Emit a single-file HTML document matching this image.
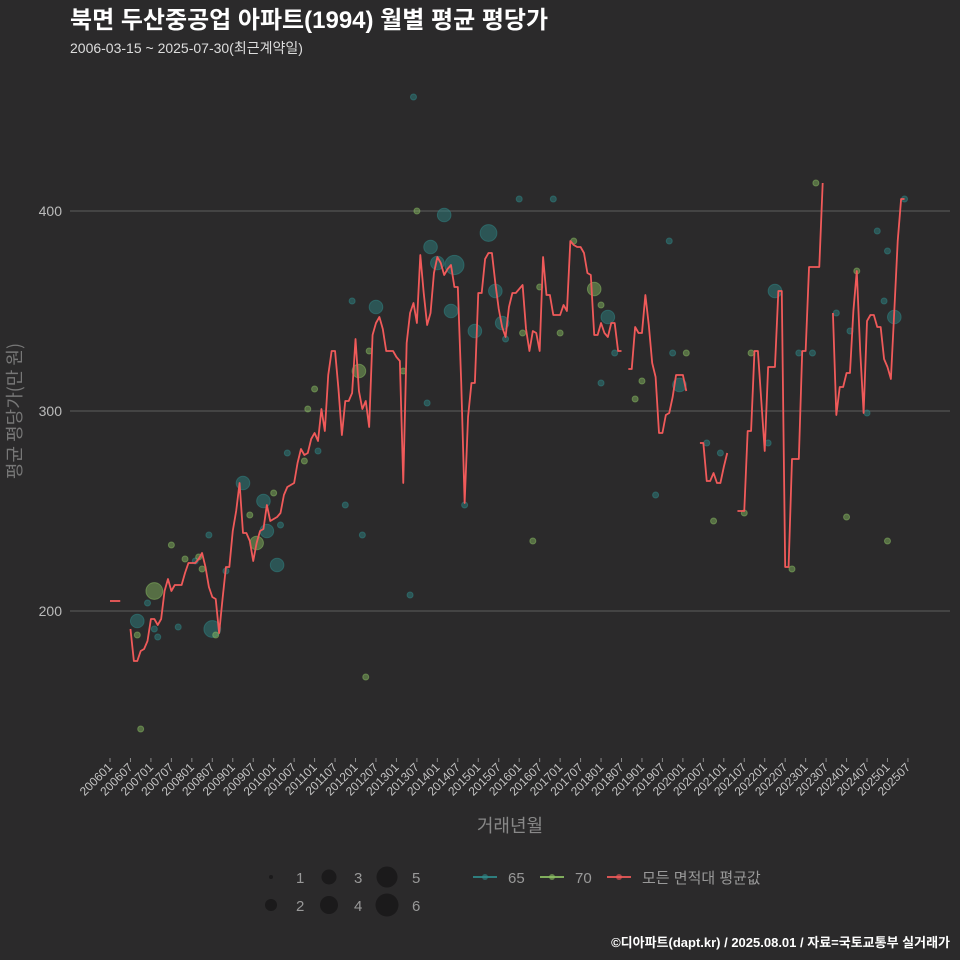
<!DOCTYPE html>
<html><head><meta charset="utf-8">
<style>
html,body{margin:0;background:#2b2a2b;overflow:hidden;}
svg{display:block;}
svg text{font-family:"Liberation Sans","Noto Sans CJK KR",sans-serif;}
</style></head>
<body>
<svg id="chart" width="960" height="960" viewBox="0 0 960 960" xmlns="http://www.w3.org/2000/svg">
<rect width="960" height="960" fill="#2b2a2b"/>
<text x="70" y="28" fill="#ffffff" font-size="24" font-weight="bold">북면 두산중공업 아파트(1994) 월별 평균 평당가</text>
<text x="70" y="53" fill="#dddddd" font-size="14">2006-03-15 ~ 2025-07-30(최근계약일)</text>
<g id="grid"></g>
<g id="points"></g>
<g id="line"></g>
<g id="xaxis"></g>
<text transform="translate(21,411) rotate(-90)" text-anchor="middle" fill="#777" font-size="18" style="font-family:'Noto Sans CJK KR',sans-serif">평균 평당가(만 원)</text>
<text x="510" y="832" text-anchor="middle" fill="#888" font-size="18">거래년월</text>
<g id="legend"></g>
<text x="950" y="947" text-anchor="end" fill="#ffffff" font-size="13" font-weight="bold">©디아파트(dapt.kr) / 2025.08.01 / 자료=국토교통부 실거래가</text>
</svg>
<script>
const yTicks=[200,300,400];
const avgMonths=[0,1,2,3,null,6,7,8,9,10,11,12,13,14,15,16,17,18,19,20,21,22,23,24,25,26,27,28,29,30,31,32,33,34,35,36,37,38,39,40,41,42,43,44,45,46,47,48,49,50,51,52,53,54,55,56,57,58,59,60,61,62,63,64,65,66,67,68,69,70,71,72,73,74,75,76,77,78,79,80,81,82,83,84,85,86,87,88,89,90,91,92,93,94,95,96,97,98,99,100,101,102,103,104,105,106,107,108,109,110,111,112,113,114,115,116,117,118,119,120,121,122,123,124,125,126,127,128,129,130,131,132,133,134,135,136,137,138,139,140,141,142,143,144,145,146,147,148,149,150,null,152,153,154,155,156,157,158,159,160,161,162,163,164,165,166,167,168,169,null,173,174,175,176,177,178,179,180,181,null,184,185,186,187,188,189,190,191,192,193,194,195,196,197,198,199,200,201,202,203,204,205,206,207,208,209,null,212,213,214,215,216,217,218,219,220,221,222,223,224,225,226,227,228,229,230,231,232,233,234];
const avgValues=[205,205,205,205,null,191,175,175,180,181,185,196,196,193,196,210,216,210,213,213,213,219,224,224,224,226,229,222,212,207,206,189,206,222,222,240,250,264,239,239,235,225,234,240,241,253,245,246,247,249,258,262,263,264,274,281,278,279,286,289,285,301,290,318,330,330,311,288,305,305,309,336,310,301,305,292,338,344,347,341,330,330,330,327,325,264,334,349,354,344,378,359,343,349,369,377,374,368,371,373,362,362,314,254,297,314,314,359,359,376,379,379,364,351,342,337,352,359,359,361,363,341,330,340,339,330,377,358,358,348,348,348,353,350,385,383,382,382,379,369,368,338,338,344,339,337,344,344,330,330,null,321,321,342,339,339,358,343,324,317,289,289,298,299,307,318,318,318,310,null,284,284,265,265,269,264,264,272,279,null,250,250,250,290,290,330,330,305,280,322,322,322,360,360,222,222,276,276,276,330,330,372,372,372,372,414,null,349,298,312,312,319,319,350,370,330,299,345,348,348,342,342,326,322,316,350,385,406,406];
const ptMonths=[8,8,9,11,13,13,14,18,20,22,25,26,27,30,31,29,34,39,41,43,45,46,49,48,50,52,57,58,60,61,69,71,73,74,75,76,78,86,88,89,90,94,98,96,101,100,93,104,107,111,113,115,116,120,121,124,126,130,132,136,142,146,144,148,144,154,156,160,164,167,165,169,177,175,179,186,188,193,195,200,202,206,207,213,216,217,219,225,222,227,228,230,228,233];
const ptValues=[195,188,141,204,210,191,187,233,192,226,225,227,221,191,188,238,220,264,248,234,255,240,223,259,243,279,275,301,311,280,253,355,320,238,167,330,352,320,208,457,400,382,398,374,373,350,304,253,340,389,360,344,336,406,339,235,362,406,339,385,361,347,353,329,314,306,315,258,385,313,329,329,245,284,279,249,329,284,360,221,329,329,414,349,247,340,370,390,299,355,235,347,380,406];
const ptCounts=[2,1,1,1,3,1,1,1,1,1,1,1,1,3,1,1,1,2,1,2,2,2,2,1,1,1,1,1,1,1,1,1,2,1,1,1,2,1,1,1,1,2,2,2,4,2,1,1,2,3,2,2,1,1,1,1,1,1,1,1,2,2,1,1,1,1,1,1,1,2,1,1,1,1,1,1,1,1,2,1,1,1,1,1,1,1,1,1,1,1,1,2,1,1];
const ptTypes=[65,70,70,65,70,65,65,70,65,70,65,70,70,65,70,65,65,65,70,70,65,65,65,70,65,65,70,70,70,65,65,65,70,65,70,70,65,70,65,65,70,65,65,65,65,65,65,65,65,65,65,65,65,65,70,70,70,65,70,70,70,65,70,65,65,70,70,65,65,65,65,70,70,65,65,70,70,65,65,70,65,65,70,65,70,65,70,65,65,65,70,65,65,65];
const xLabels=[];for(let y=2006;y<=2025;y++){xLabels.push(y+'01');xLabels.push(y+'07');}

const NS='http://www.w3.org/2000/svg';
const X0=110,DX=3.41;
function xs(m){return X0+m*DX;}
function ys(v){return 611-(v-200)*2;}
function mk(tag,attrs,parent){const e=document.createElementNS(NS,tag);for(const k in attrs)e.setAttribute(k,attrs[k]);parent.appendChild(e);return e;}
const grid=document.getElementById('grid');
yTicks.forEach(t=>{
 const l=mk('line',{x1:70,x2:950,y1:ys(t),y2:ys(t),stroke:'#5e5d5e','stroke-width':1},grid);
 
 
 const tx=mk('text',{x:62,y:ys(t)+5,'text-anchor':'end',fill:'#bbb','font-size':14},grid);
 tx.textContent=t;
 
 
});
const xa=document.getElementById('xaxis');
xLabels.forEach((lab,i)=>{
 const m=i*6;const x=xs(m);
 const tk=mk('line',{x1:x,x2:x,y1:758,y2:762,stroke:'#888','stroke-width':1},xa);
 
 
 const tx=mk('text',{transform:`translate(${x+3},768) rotate(-45)`,'text-anchor':'end',fill:'#c4c4c4','font-size':12},xa);
 tx.textContent=lab;
 
 
});
function rad(n){return 3+8.5*Math.sqrt((n-1)/5);}
const colors={65:'#2f8a8a',70:'#8cc063'};
const pg=document.getElementById('points');
ptMonths.forEach((m,i)=>{
 const c=mk('circle',{cx:xs(m),cy:ys(ptValues[i]),r:rad(ptCounts[i]),fill:colors[ptTypes[i]],'fill-opacity':0.45,stroke:colors[ptTypes[i]],'stroke-opacity':0.5,'stroke-width':1},pg);
 
 
});
const lg=document.getElementById('line');
let seg=[];
function flush(){if(seg.length){const p=mk('polyline',{points:seg.join(' '),fill:'none',stroke:'#f05a5a','stroke-width':1.8,'stroke-linejoin':'round'},lg);
 
 }seg=[];}
avgMonths.forEach((m,i)=>{if(m===null||avgValues[i]===null){flush();}else seg.push(xs(m)+','+ys(avgValues[i]));});
flush();
const leg=document.getElementById('legend');
const sizes=[1,2,3,4,5,6];
sizes.forEach((s,i)=>{
 const col=Math.floor(i/2),row=i%2;
 const cx=271+col*58,cy=877+row*28;
 const r=[2,6,7.5,9,10.5,11.5][i];
 const c=mk('circle',{cx:cx,cy:cy,r:r,fill:'#1b1a1b'},leg);
 
 
 const t=mk('text',{x:cx+25,y:cy+6,fill:'#999','font-size':15},leg);
 t.textContent=s;
 
 
});
const items=[['65','#2f8a8a',473],['70','#8cc063',540],['모든 면적대 평균값','#f05a5a',607]];
items.forEach(it=>{
 const l=mk('line',{x1:it[2],x2:it[2]+24,y1:877,y2:877,stroke:it[1],'stroke-width':1.8},leg);
 
 
 const c=mk('circle',{cx:it[2]+12,cy:877,r:3,fill:it[1],'fill-opacity':0.6},leg);
 
 
 const t=mk('text',{x:it[2]+35,y:883,fill:'#999','font-size':15},leg);
 t.textContent=it[0];
 
 
});
</script>
</body></html>
